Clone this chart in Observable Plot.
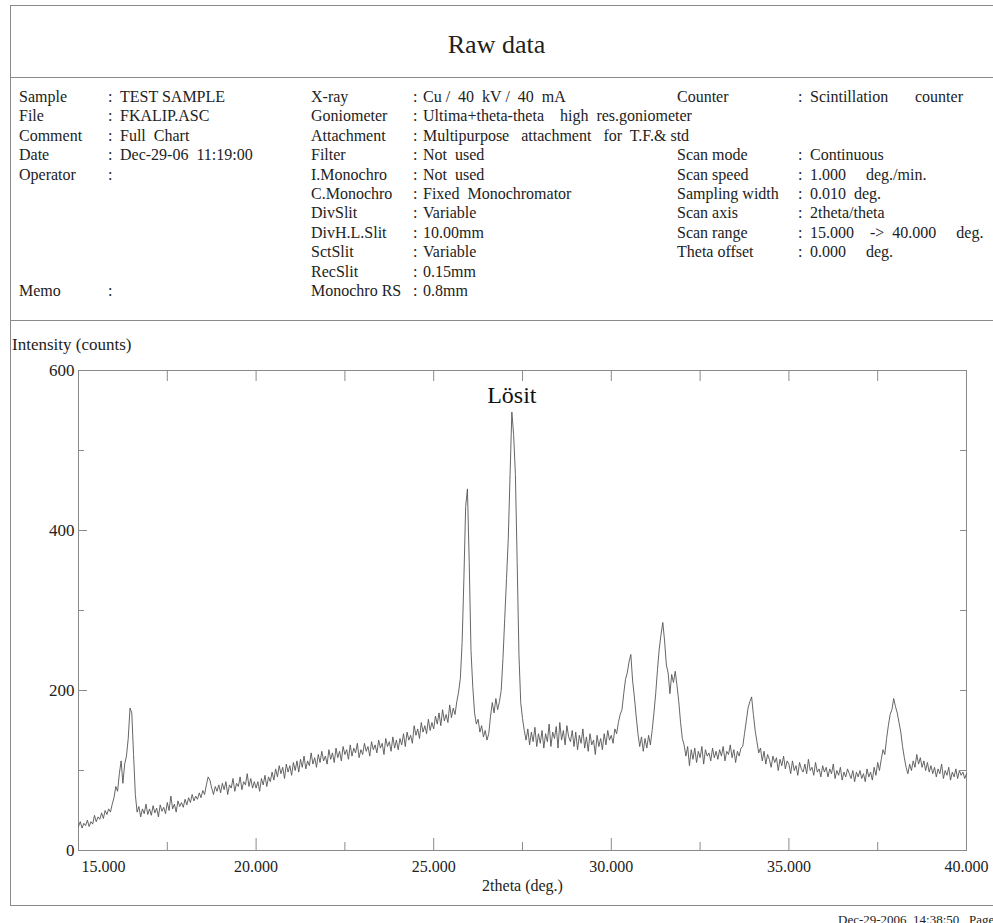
<!DOCTYPE html>
<html>
<head>
<meta charset="utf-8">
<script src="https://cdn.jsdelivr.net/npm/d3@7"></script>
<script src="https://cdn.jsdelivr.net/npm/@observablehq/plot@0.6"></script>
<style>
  body { margin:0; background:#fff; }
  #page { position:relative; width:993px; height:923px; overflow:hidden; font-family:"Liberation Serif", "Times New Roman", serif; color:#222; }
  .hl { position:absolute; height:0; border-top:1px solid #8a8a8a; }
  .vl { position:absolute; width:0; border-left:1px solid #8a8a8a; }
  .t { position:absolute; font-size:16px; line-height:19.4px; white-space:pre; }
  #chart { position:absolute; left:0; top:320px; }
</style>
</head>
<body>
<div id="page">
  <div class="hl" style="left:10px; top:5px; width:983px;"></div>
  <div class="vl" style="left:10px; top:5px; height:900px;"></div>
  <div class="hl" style="left:10px; top:77px; width:983px;"></div>
  <div class="hl" style="left:10px; top:320px; width:983px;"></div>
  <div class="hl" style="left:10px; top:905px; width:983px;"></div>
  <div id="title" style="position:absolute; left:0; width:993px; top:30px; text-align:center; font-size:26px;"></div>
  <div id="meta"></div>
  <div id="ylabel" class="t" style="left:12px; top:335px; font-size:17px;"></div>
  <div id="chart"></div>
  <div id="footer" class="t" style="left:838px; top:910px; font-size:13px;"></div>
</div>
<script>
// ---------- texts ----------
const titleText = "Raw data";
const yTitle = "Intensity (counts)";
const xTitle = "2theta (deg.)";
const peakLabel = "Lösit";
const footerText = "Dec-29-2006  14:38:50   Page 1";

const metaCol1Labels = ["Sample", "File", "Comment", "Date", "Operator"];
const metaCol1Values = ["TEST SAMPLE", "FKALIP.ASC", "Full  Chart", "Dec-29-06  11:19:00", ""];
const metaCol2Labels = ["X-ray", "Goniometer", "Attachment", "Filter", "I.Monochro", "C.Monochro", "DivSlit", "DivH.L.Slit", "SctSlit", "RecSlit", "Monochro RS"];
const metaCol2Values = ["Cu /  40  kV /  40  mA", "Ultima+theta-theta    high  res.goniometer", "Multipurpose   attachment   for  T.F.& std", "Not  used", "Not  used", "Fixed  Monochromator", "Variable", "10.00mm", "Variable", "0.15mm", "0.8mm"];
const metaCol3Labels = ["Counter", "", "", "Scan mode", "Scan speed", "Sampling width", "Scan axis", "Scan range", "Theta offset"];
const metaCol3Values = ["Scintillation", "", "", "Continuous", "1.000     deg./min.", "0.010  deg.", "2theta/theta", "15.000    ->  40.000     deg.", "0.000     deg."];
const counterWord = "counter";

// ---------- data ----------
const scanStart = 15.0;   // deg
const scanStep = 0.05;    // deg
const intensity = [
  30,36,28,34,31,38,30,36,33,44,36,42,39,47,40,50,45,52,48,58,
  66,80,74,96,112,84,108,118,140,178,172,120,70,48,55,42,52,46,58,45,
  52,44,56,47,53,42,57,49,54,46,60,50,68,52,58,48,62,55,60,54,
  64,57,66,60,70,62,68,64,72,66,75,70,82,92,88,78,70,80,74,82,
  72,84,76,86,70,82,78,90,74,84,80,92,76,86,82,96,80,90,78,86,
  78,86,74,90,82,94,80,92,86,98,88,102,92,106,96,104,90,108,98,106,
  94,110,100,112,98,114,104,118,102,112,106,122,108,116,104,120,110,124,112,118,
  108,126,114,122,110,128,116,124,112,130,120,126,114,132,118,128,122,134,116,126,
  120,134,124,130,118,136,126,132,122,138,128,134,120,140,130,136,124,142,128,138,
  126,140,132,146,130,148,138,144,134,156,144,152,140,160,148,156,146,164,150,160,
  152,168,158,172,156,176,162,170,160,182,166,178,170,186,198,215,260,340,430,452,
  360,250,205,172,158,164,148,156,142,150,138,146,168,185,172,190,176,186,200,240,
  290,340,390,470,548,520,470,360,245,185,165,150,138,152,132,148,136,154,130,146,
  134,150,128,146,136,158,130,148,140,155,128,160,138,150,132,156,142,136,150,130,
  148,126,144,134,152,128,142,124,146,132,138,120,144,130,140,126,146,132,150,138,
  144,134,152,146,160,170,176,196,214,222,236,245,212,192,168,146,130,142,124,140,
  128,144,132,150,172,196,226,252,270,285,262,232,222,196,220,210,224,206,186,160,
  140,132,118,130,106,126,114,128,110,124,116,130,108,126,118,122,112,128,116,124,
  114,126,118,130,112,124,120,132,116,126,110,124,118,128,130,146,162,178,186,192,
  170,150,136,122,128,112,124,108,120,114,104,118,110,116,100,114,106,118,102,112,
  108,96,112,100,106,94,110,102,98,108,96,114,100,104,94,110,98,102,92,106,
  98,104,92,102,96,108,90,100,94,104,88,98,92,102,96,90,100,86,98,92,
  100,90,96,86,102,92,98,88,104,94,110,100,114,126,120,140,156,170,176,190,
  180,172,160,148,130,116,104,96,108,100,112,104,120,108,116,104,112,100,110,98,
  106,96,104,92,102,96,108,90,100,94,104,88,98,92,102,90,100,94,98,90,
  96
];

const xDomain = [15, 40];
const yDomain = [0, 600];
const xLabelTicks = [15, 20, 25, 30, 35, 40];
const xMajorTicks = [20, 25, 30, 35];
const xMinorTicks = [17.5, 22.5, 27.5, 32.5, 37.5];
const yLabelTicks = [0, 200, 400, 600];
const yMajorTicks = [200, 400];
const yMinorTicks = [100, 300, 500];

// ---------- header ----------
document.getElementById("title").textContent = titleText;
document.getElementById("ylabel").textContent = yTitle;
document.getElementById("footer").textContent = footerText;

const meta = document.getElementById("meta");
const rowTop = 87, rowH = 19.4;
function put(x, row, text) {
  if (!text) return;
  const d = document.createElement("div");
  d.className = "t";
  d.style.left = x + "px";
  d.style.top = (rowTop + row * rowH) + "px";
  d.textContent = text;
  meta.appendChild(d);
}
metaCol1Labels.forEach((l, i) => { put(19, i, l); put(108, i, ":"); put(120, i, metaCol1Values[i]); });
put(19, 10, "Memo"); put(108, 10, ":");
metaCol2Labels.forEach((l, i) => { put(311, i, l); put(413, i, ":"); put(423, i, metaCol2Values[i]); });
metaCol3Labels.forEach((l, i) => { if (!l) return; put(677, i, l); put(798, i, ":"); put(810, i, metaCol3Values[i]); });
put(915, 0, counterWord);

// ---------- chart ----------
const data = intensity.map((c, i) => ({theta: scanStart + i * scanStep, counts: c}));
const peak = data[d3.maxIndex(data, d => d.counts)];
const fmt = d3.format(".3f");
const axisStroke = "#8a8a8a";

const chart = Plot.plot({
  width: 993,
  height: 590,
  marginLeft: 78,
  marginRight: 27,
  marginTop: 50,
  marginBottom: 60,
  style: {fontFamily: "Liberation Serif, serif", fontSize: "16px", color: "#222", background: "transparent"},
  x: {domain: xDomain},
  y: {domain: yDomain},
  marks: [
    Plot.frame({stroke: axisStroke}),
    Plot.axisX(xMajorTicks, {anchor: "bottom", tickSize: -12, tickFormat: () => "", label: null, stroke: axisStroke}),
    Plot.axisX(xMinorTicks, {anchor: "bottom", tickSize: -8, tickFormat: () => "", label: null, stroke: axisStroke}),
    Plot.axisX([...xMajorTicks, ...xMinorTicks], {anchor: "top", tickSize: -10, tickFormat: () => "", label: null, stroke: axisStroke}),
    Plot.axisY(yMajorTicks, {anchor: "left", tickSize: -9, tickFormat: () => "", label: null, stroke: axisStroke}),
    Plot.axisY(yMinorTicks, {anchor: "left", tickSize: -6, tickFormat: () => "", label: null, stroke: axisStroke}),
    Plot.axisY([...yMajorTicks, ...yMinorTicks], {anchor: "right", tickSize: -7, tickFormat: () => "", label: null, stroke: axisStroke}),
    Plot.axisX(xLabelTicks.slice(1), {anchor: "bottom", tickSize: 0, tickPadding: 10, tickFormat: fmt, label: null, fontSize: 16}),
    Plot.axisX(xLabelTicks.slice(0, 1), {anchor: "bottom", tickSize: 0, tickPadding: 10, tickFormat: fmt, label: null, textAnchor: "start", dx: 3, fontSize: 16}),
    Plot.axisY(yLabelTicks, {anchor: "left", tickSize: 0, tickPadding: 4, label: null, fontSize: 17}),
    Plot.text([xTitle], {frameAnchor: "bottom", dy: 40, text: d => d, fontSize: 16}),
    Plot.line(data, {x: "theta", y: "counts", stroke: "#555", strokeWidth: 0.9}),
    Plot.text([peak], {x: "theta", frameAnchor: "top", dy: 15, text: () => peakLabel, fontSize: 24, fill: "#111"})
  ]
});
document.getElementById("chart").appendChild(chart);
</script>
</body>
</html>
